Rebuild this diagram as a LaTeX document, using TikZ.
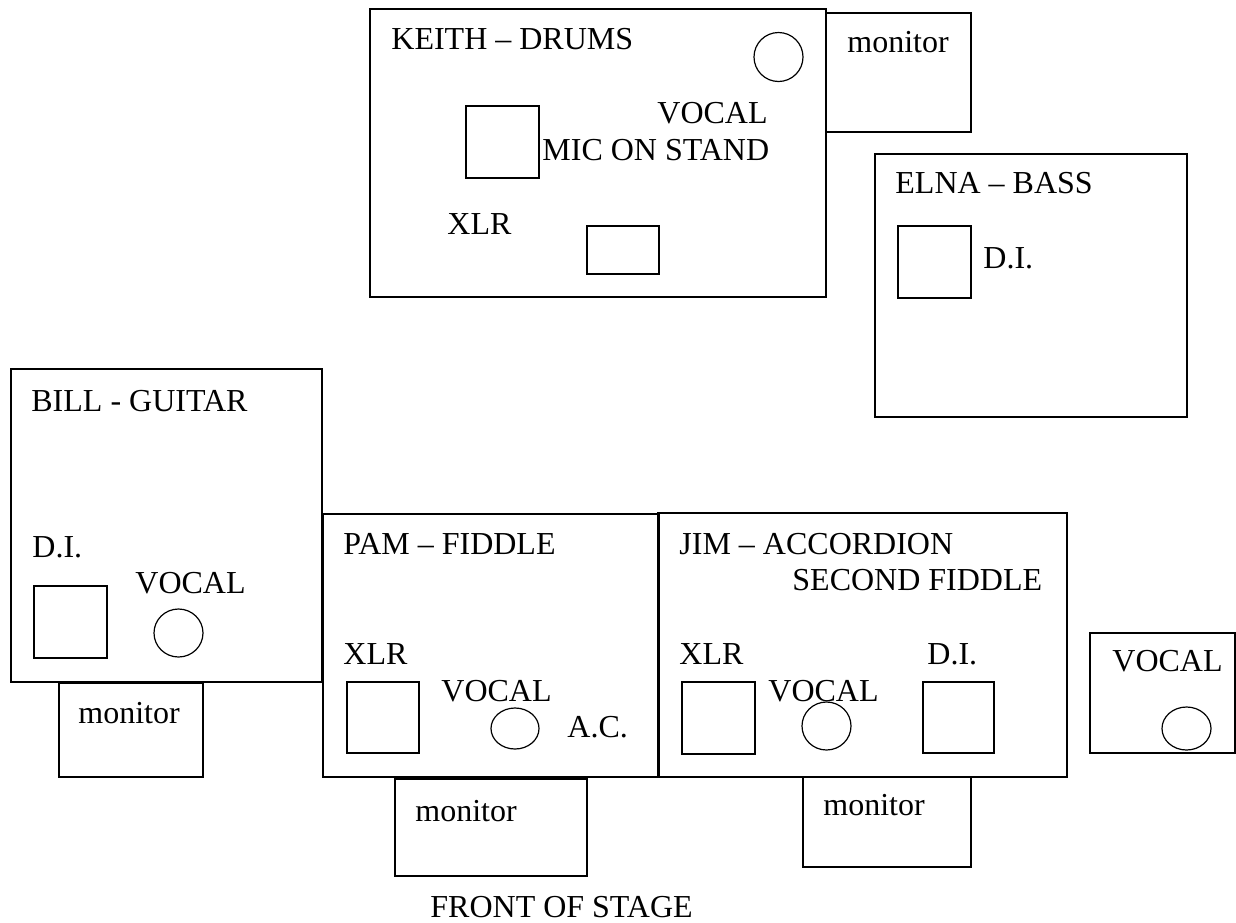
\documentclass[tikz,border=0pt]{standalone}
\usepackage{fontspec}
\setmainfont{Liberation Serif}
\usetikzlibrary{fit,shapes.geometric}
\tikzset{
  box/.style={draw, line width=0.6pt, inner sep=0pt, rectangle},
  mic/.style={draw, line width=0.6pt, ellipse, inner sep=0pt},
  lbl/.style={anchor=base west, inner sep=0pt, font=\fontsize{16}{19}\selectfont}
}
\begin{document}
\begin{tikzpicture}[x=0.5pt,y=-0.5pt]
\useasboundingbox (0,0) rectangle (1236,922);
% --- big boxes
\node[box, fit={(370,9) (826,297)}] (keith) {};
\node[box, fit={(826,13) (971,132)}] (keithmon) {};
\node[box, fit={(875,154) (1187,417)}] (elna) {};
\node[box, fit={(11,369) (322,682)}] (bill) {};
\node[box, fit={(59,683) (203,777)}] (billmon) {};
\node[box, fit={(323,514) (659,777)}] (pam) {};
\node[box, fit={(395,779) (587,876)}] (pammon) {};
\node[box, fit={(658,513) (1067,777)}] (jim) {};
\node[box, fit={(803,777) (971,867)}] (jimmon) {};
\node[box, fit={(1090,633) (1235,753)}] (vocbox) {};
% --- small squares
\node[box, fit={(466,106) (539,178)}] (keithsq) {};
\node[box, fit={(587,226) (659,274)}] (keithrect) {};
\node[box, fit={(898,226) (971,298)}] (elnasq) {};
\node[box, fit={(34,586) (107,658)}] (billsq) {};
\node[box, fit={(347,682) (419,753)}] (pamsq) {};
\node[box, fit={(682,682) (755,754)}] (jimsqa) {};
\node[box, fit={(923,682) (994,753)}] (jimsqb) {};
% --- mic circles
\node[mic, minimum width=24.5pt, minimum height=24.5pt] (keithmic) at (778.5,57) {};
\node[mic, minimum width=24.5pt, minimum height=24pt] (billmic) at (178.5,633) {};
\node[mic, minimum width=24pt, minimum height=20.5pt] (pammic) at (515,728.5) {};
\node[mic, minimum width=24.5pt, minimum height=24pt] (jimmic) at (826.5,726) {};
\node[mic, minimum width=24.5pt, minimum height=21.5pt] (vocmic) at (1186.5,728.5) {};
% --- labels
\node[lbl] (t1) at (391,49) {KEITH – DRUMS};
\node[lbl] (t2) at (657,123) {VOCAL};
\node[lbl] (t3) at (542,160) {MIC ON STAND};
\node[lbl] (t4) at (447,234) {XLR};
\node[lbl] (t5) at (847,52) {monitor};
\node[lbl] (t6) at (895,193) {ELNA – BASS};
\node[lbl] (t7) at (983,268) {D.I.};
\node[lbl] (t8) at (31,411) {BILL - GUITAR};
\node[lbl] (t9) at (32,557) {D.I.};
\node[lbl] (t10) at (135,593) {VOCAL};
\node[lbl] (t11) at (78,723) {monitor};
\node[lbl] (t12) at (343,554) {PAM – FIDDLE};
\node[lbl] (t13) at (343,664) {XLR};
\node[lbl] (t14) at (441,701) {VOCAL};
\node[lbl] (t15) at (567,737) {A.C.};
\node[lbl] (t16) at (415,821) {monitor};
\node[lbl] (t17) at (679,554) {JIM – ACCORDION};
\node[lbl] (t18) at (792,590) {SECOND FIDDLE};
\node[lbl] (t19) at (679,664) {XLR};
\node[lbl] (t20) at (768,701) {VOCAL};
\node[lbl] (t21) at (927,664) {D.I.};
\node[lbl] (t22) at (823,815) {monitor};
\node[lbl] (t23) at (1112,671) {VOCAL};
\node[lbl] (t24) at (430,917) {FRONT OF STAGE};
\end{tikzpicture}
\end{document}
